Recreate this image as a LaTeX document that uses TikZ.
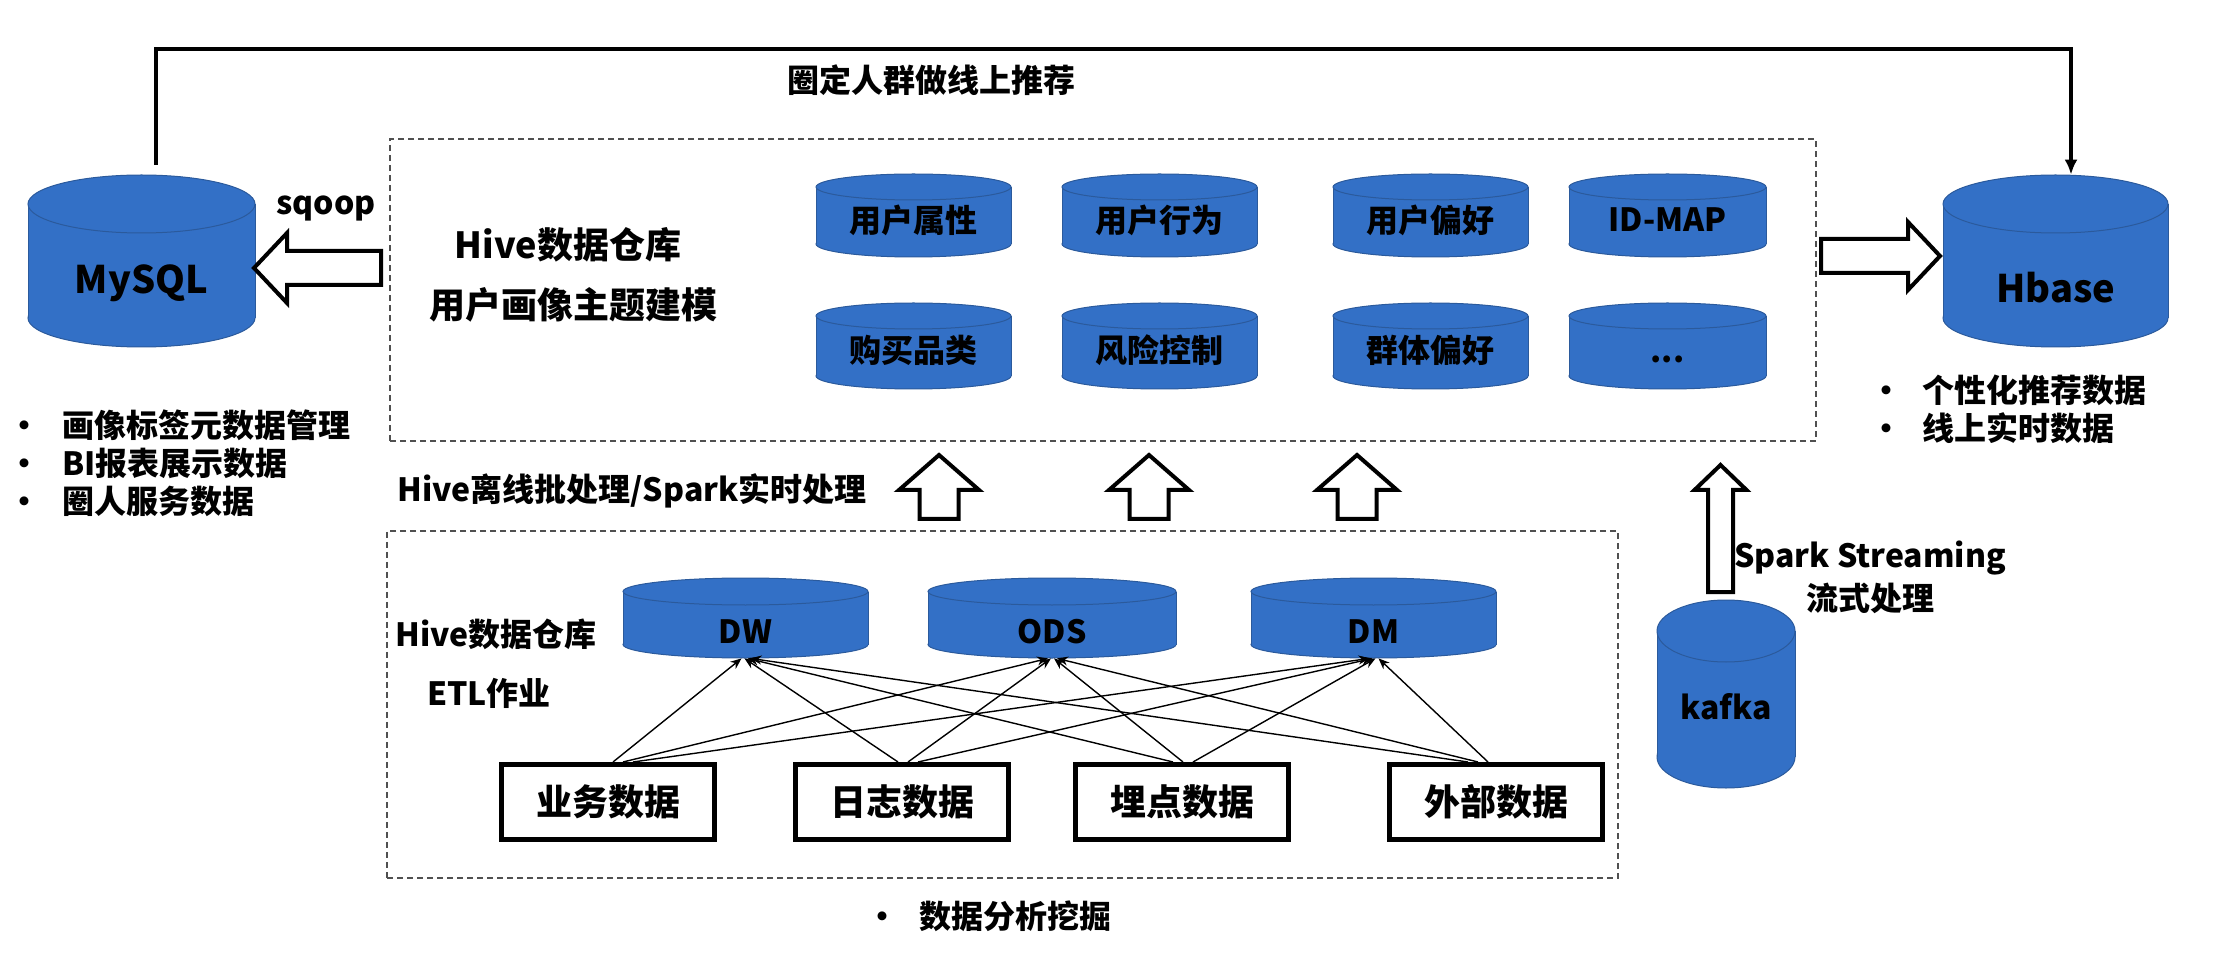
\documentclass[tikz,border=0pt]{standalone}
\usepackage{fontspec}
\setmainfont{Noto Sans CJK SC}
\usetikzlibrary{arrows.meta,calc}
\definecolor{cylblue}{HTML}{3370C6}
\definecolor{cyledge}{HTML}{2B5A9C}
\definecolor{dashgray}{HTML}{505050}
\tikzset{
  cylfill/.style={fill=cylblue},
  cylbody/.style={fill=cylblue, draw=cyledge, line width=0.5pt},
  cylline/.style={draw=cyledge, line width=0.5pt},
  cylbox/.style={inner sep=0pt, draw=none},
  lbl/.style={font=\bfseries\fontsize{16pt}{19pt}\selectfont, inner sep=0pt},
  lblbig/.style={font=\bfseries\fontsize{18pt}{21pt}\selectfont, inner sep=0pt},
  lblcyl/.style={font=\bfseries\fontsize{19pt}{22pt}\selectfont, inner sep=0pt},
  srcbox/.style={draw=black, line width=2.5pt, fill=white, minimum width=106.5pt, minimum height=37.5pt, inner sep=0pt, font=\bfseries\fontsize{18pt}{21pt}\selectfont},
  dashbox/.style={draw=dashgray, line width=0.6pt, dash pattern=on 3pt off 2pt, inner sep=0pt},
  harrow/.style={draw=black, line width=2pt, fill=white, line join=miter},
  etl/.style={-{Stealth[length=5.5pt,width=4.5pt]}, line width=0.7pt},
  topline/.style={line width=2pt},
}
% #1 name, #2 left, #3 top, #4 right, #5 bottom, #6 ry, #7 text y, #8 style, #9 text
\newcommand{\dbcyl}[9]{%
  \pgfmathsetmacro\cylcx{(#2+#4)/2}%
  \pgfmathsetmacro\cylrx{(#4-#2)/2}%
  \filldraw[cylbody] (\cylcx,#5-#6) ellipse [x radius=\cylrx, y radius=#6];
  \fill[cylfill] (#2,#3+#6) rectangle (#4,#5-#6);
  \draw[cylline] (#2,#3+#6) -- (#2,#5-#6) (#4,#3+#6) -- (#4,#5-#6);
  \filldraw[cylbody] (\cylcx,#3+#6) ellipse [x radius=\cylrx, y radius=#6];
  \node[cylbox, minimum width={(#4-#2)*0.5pt}, minimum height={(#5-#3)*0.5pt}] (#1) at (\cylcx,{(#3+#5)/2}) {};
  \node[#8] (#1-t) at (\cylcx,#7) {#9};
}
% hollow up arrow: #1 center x, #2 tip y, #3 head base y, #4 bottom y, #5 head half, #6 shaft half
\newcommand{\hollowup}[6]{%
  \draw[harrow] (#1,#2) -- (#1+#5,#3) -- (#1+#6,#3) -- (#1+#6,#4) -- (#1-#6,#4) -- (#1-#6,#3) -- (#1-#5,#3) -- cycle;
}
\begin{document}
\begin{tikzpicture}[x=0.5pt, y=-0.5pt]
\fill[white] (0,0) rectangle (2226,956);
\useasboundingbox (0,0) rectangle (2226,956);

% dashed frames
\node[dashbox, minimum width=713pt, minimum height=151pt] (upper) at (1103,290) {};
\node[dashbox, minimum width=615.5pt, minimum height=173.5pt] (lower) at (1002.5,704.5) {};

% big cylinders
\dbcyl{mysql}{28}{175}{255}{347}{29}{283}{lblcyl}{MySQL}
\dbcyl{hbase}{1943}{175}{2168}{347}{29}{288}{lblcyl}{Hbase}
\dbcyl{kafka}{1657}{600}{1795}{788}{31}{707}{lbl}{kafka}

% upper small cylinders
\dbcyl{c11}{816}{174}{1011}{257}{13}{220}{lbl}{用户属性}
\dbcyl{c12}{1062}{174}{1257}{257}{13}{220}{lbl}{用户行为}
\dbcyl{c13}{1333}{174}{1528}{257}{13}{220}{lbl}{用户偏好}
\dbcyl{c14}{1569}{174}{1766}{257}{13}{220}{lbl}{ID-MAP}
\dbcyl{c21}{816}{303}{1011}{389}{13}{350}{lbl}{购买品类}
\dbcyl{c22}{1062}{303}{1257}{389}{13}{350}{lbl}{风险控制}
\dbcyl{c23}{1333}{303}{1528}{389}{13}{350}{lbl}{群体偏好}
\dbcyl{c24}{1569}{303}{1766}{389}{13}{350}{lbl}{\vphantom{群}...}

% lower cylinders
\dbcyl{dw}{623}{578}{868}{658}{13.5}{632}{lbl}{DW}
\dbcyl{ods}{928}{578}{1176}{658}{13.5}{632}{lbl}{ODS}
\dbcyl{dm}{1251}{578}{1496}{658}{13.5}{632}{lbl}{DM}

% source boxes
\node[srcbox] (b1) at (608,802) {业务数据};
\node[srcbox] (b2) at (902,802) {日志数据};
\node[srcbox] (b3) at (1182,802) {埋点数据};
\node[srcbox] (b4) at (1496,802) {外部数据};

% ETL arrows
\foreach \s/\sx/\i in {b1/5/0,b2/-4/1,b3/-9/2,b4/-28/3}{
  \foreach \t/\k in {dw/0,ods/1,dm/2}{
    \draw[etl] ($(\s.north)+(\sx+10*\k,0)$) -- ($(\t.south)+(-4+3*\i,0)$);
  }
}

% top connector
\coordinate (tl0) at ($(mysql.north)+(14,-10)$);
\coordinate (tlEnd) at ($(hbase.north)+(15.5,0)$);
\draw[topline, -{Latex[length=7.5pt,width=6.5pt]}] (tl0) |- ($(tlEnd)+(0,-126)$) -- (tlEnd);
\node[lbl] (toplbl) at (931,80) {圈定人群做线上推荐};

% hollow arrows
\draw[harrow] (254,268) -- (287,233) -- (287,251) -- (381,251) -- (381,285) -- (287,285) -- (287,303) -- cycle;
\draw[harrow] (1940,256) -- (1908,222) -- (1908,239) -- (1821,239) -- (1821,273) -- (1908,273) -- (1908,290) -- cycle;
\hollowup{939}{455}{490}{519}{40}{19.5}
\hollowup{1149}{455}{490}{519}{40}{19.5}
\hollowup{1357}{455}{490}{519}{40}{19.5}
\hollowup{1720.5}{465}{490}{592}{26}{12.5}

% texts
\node[lbl] (sqoop) at (326,208) {sqoop};
\node[lblbig] (hive1) at (568,245) {Hive数据仓库};
\node[lblbig] (hive2) at (573,305) {用户画像主题建模};
\node[lbl] (proc) at (632,491) {Hive离线批处理/Spark实时处理};
\node[lbl] (hive3) at (496,634) {Hive数据仓库};
\node[lbl] (etlt) at (489,693) {ETL作业};
\node[lbl] (ss1) at (1870,558) {Spark Streaming};
\node[lbl] (ss2) at (1870,598) {流式处理};

% bullets
\node[lbl, anchor=west] (lb1) at (8,425) {\makebox[27pt][l]{•}画像标签元数据管理};
\node[lbl, anchor=west] (lb2) at (8,463) {\makebox[27pt][l]{•}BI报表展示数据};
\node[lbl, anchor=west] (lb3) at (8,501) {\makebox[27pt][l]{•}圈人服务数据};
\node[lbl, anchor=west] (rb1) at (1870,390) {\makebox[26pt][l]{•}个性化推荐数据};
\node[lbl, anchor=west] (rb2) at (1870,428) {\makebox[26pt][l]{•}线上实时数据};
\node[lbl, anchor=west] (bb1) at (866,916) {\makebox[26.5pt][l]{•}数据分析挖掘};
\end{tikzpicture}
\end{document}
